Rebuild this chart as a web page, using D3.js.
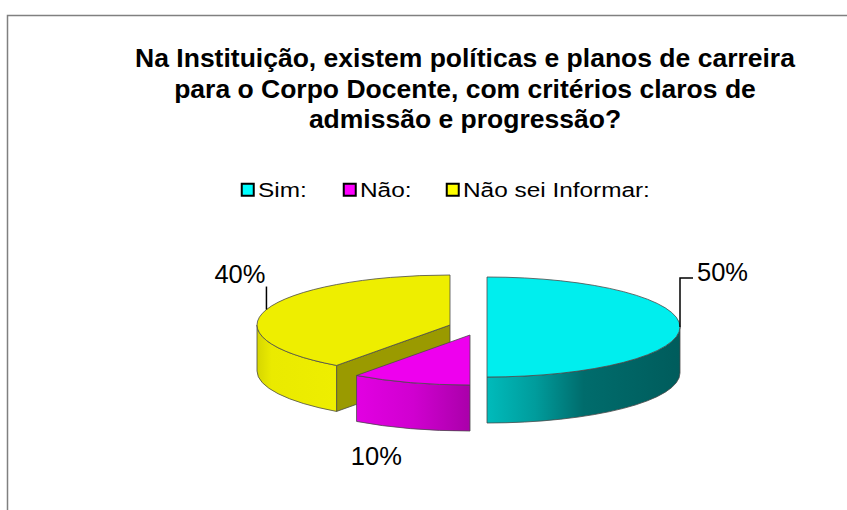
<!DOCTYPE html>
<html>
<head>
<meta charset="utf-8">
<script src="https://cdn.jsdelivr.net/npm/d3@7"></script>
<style>
  html, body { margin: 0; padding: 0; background: #fff; }
  svg { display: block; }
  text { font-family: "Liberation Sans", Arial, Helvetica, sans-serif; fill: #000; }
</style>
</head>
<body>
<svg id="chart" width="847" height="510"></svg>
<script>
// Survey answers
const categories = ["Sim:", "Não:", "Não sei Informar:"];
const values = [50, 10, 40];
const valueLabels = ["50%", "10%", "40%"];
const topColors = ["#00EEEE", "#EE00EE", "#EEEE00"];
const legendColors = ["#00FFFF", "#FF00FF", "#FFFF00"];
const titleLines = [
  "Na Instituição, existem políticas e planos de carreira",
  "para o Corpo Docente, com critérios claros de",
  "admissão e progressão?"
];

// Layout of the tilted pie
const W = 847, H = 510;
const cx0 = 470, cy0 = 327;     // pie centre
const rx = 193, ry = 50;        // ellipse radii of the top face
const depth = 46;               // thickness of the disc
// how far each slice is pulled out of the pie (screen px)
const explode = [[17, 0], [0, 8], [-20, -2]];
// label placement relative to the point where each slice's bisector meets its rim
const labelLayout = [
  { leader: [[0, -49], [13, -49]], text: [17, -46], anchor: "start" },
  { leader: null, text: [-34, 82], anchor: "middle" },
  { leader: [[0, -23]], text: [-1, -27], anchor: "end" }
];
// side-wall shading stops per slice
const wallStops = [
  [[0, "#00BBBB"], [0.25, "#009C9C"], [0.5, "#006C6C"], [1, "#005C5C"]],
  [[0, "#E200E2"], [0.5, "#D000D0"], [1, "#AA00AA"]],
  [[0, "#D6D600"], [0.18, "#EAEA00"], [1, "#EEEE00"]]
];

const svg = d3.select("#chart");
const defs = svg.append("defs");

// chart area frame (only top and left edges fall inside the view)
svg.append("rect")
  .attr("x", 7.5).attr("y", 15.5)
  .attr("width", 1200).attr("height", 1200)
  .attr("fill", "#fff")
  .attr("stroke", "#808080").attr("stroke-width", 1.5);

// Title
svg.append("text")
  .attr("text-anchor", "middle")
  .attr("font-weight", "bold")
  .attr("font-size", 26.5)
  .selectAll("tspan")
  .data(titleLines)
  .join("tspan")
  .attr("x", 465)
  .attr("y", (d, i) => 67 + i * 30.5)
  .text(d => d);

// Legend
const legendX = [241, 343, 446];
const legend = svg.append("g");
const legendItems = legend.selectAll("g")
  .data(categories)
  .join("g")
  .attr("transform", (d, i) => `translate(${legendX[i]},183)`);
legendItems.append("rect")
  .attr("x", 0.75).attr("y", 0.75)
  .attr("width", 12).attr("height", 12)
  .attr("fill", (d, i) => legendColors[i])
  .attr("stroke", "#000").attr("stroke-width", 2);
legendItems.append("text")
  .attr("transform", "translate(17,13.5) scale(1.25,1)")
  .attr("font-size", 19.5)
  .text(d => d);

// Pie angles (clockwise from 12 o'clock, in the order given)
const pie = d3.pie().sort(null).value(d => d);
const arcs = pie(values).map((a, i) => {
  const mid = (a.startAngle + a.endAngle) / 2;
  return Object.assign(a, {
    index: i,
    mid,
    cx: cx0 + explode[i][0],
    cy: cy0 + explode[i][1]
  });
});

// scale: angle -> point on the rim of the tilted ellipse
const px = (a, cx) => cx + rx * Math.sin(a);
const py = (a, cy) => cy - ry * Math.cos(a);

function topPath(d) {
  const large = d.endAngle - d.startAngle > Math.PI ? 1 : 0;
  return `M${d.cx},${d.cy}L${px(d.startAngle, d.cx)},${py(d.startAngle, d.cy)}` +
    `A${rx},${ry} 0 ${large} 1 ${px(d.endAngle, d.cx)},${py(d.endAngle, d.cy)}Z`;
}

function wallPath(d, a0, a1) {
  const large = a1 - a0 > Math.PI ? 1 : 0;
  const x0 = px(a0, d.cx), y0 = py(a0, d.cy);
  const x1 = px(a1, d.cx), y1 = py(a1, d.cy);
  return `M${x0},${y0}A${rx},${ry} 0 ${large} 1 ${x1},${y1}` +
    `L${x1},${y1 + depth}A${rx},${ry} 0 ${large} 0 ${x0},${y0 + depth}Z`;
}

function radialPath(d, a) {
  const x = px(a, d.cx), y = py(a, d.cy);
  return `M${d.cx},${d.cy}L${x},${y}L${x},${y + depth}L${d.cx},${d.cy + depth}Z`;
}

// draw slices from back to front
const order = arcs.slice().sort((a, b) => (-Math.cos(a.mid)) - (-Math.cos(b.mid)));
const pieG = svg.append("g");
const edge = { stroke: "#4a4a4a", width: 0.8 };

order.forEach(d => {
  const g = pieG.append("g");
  const base = d3.rgb(topColors[d.index]);
  const inner = d3.rgb(base.r * 0.645, base.g * 0.645, base.b * 0.645);

  // cut faces turned towards the viewer
  if (Math.sin(d.startAngle) < -1e-6) {
    g.append("path").attr("d", radialPath(d, d.startAngle))
      .attr("fill", inner).attr("stroke", edge.stroke).attr("stroke-width", edge.width)
      .attr("stroke-linejoin", "round");
  }
  if (Math.sin(d.endAngle) > 1e-6) {
    g.append("path").attr("d", radialPath(d, d.endAngle))
      .attr("fill", inner).attr("stroke", edge.stroke).attr("stroke-width", edge.width)
      .attr("stroke-linejoin", "round");
  }

  // outer wall: only the front half of the rim (3 o'clock to 9 o'clock)
  const a0 = Math.max(d.startAngle, Math.PI / 2);
  const a1 = Math.min(d.endAngle, 3 * Math.PI / 2);
  if (a1 > a0) {
    const gid = "wall" + d.index;
    const grad = defs.append("linearGradient")
      .attr("id", gid)
      .attr("gradientUnits", "userSpaceOnUse")
      .attr("x1", Math.min(px(a0, d.cx), px(a1, d.cx))).attr("y1", 0)
      .attr("x2", Math.max(px(a0, d.cx), px(a1, d.cx))).attr("y2", 0);
    grad.selectAll("stop").data(wallStops[d.index]).join("stop")
      .attr("offset", s => s[0]).attr("stop-color", s => s[1]);
    g.append("path").attr("d", wallPath(d, a0, a1))
      .attr("fill", `url(#${gid})`)
      .attr("stroke", edge.stroke).attr("stroke-width", edge.width)
      .attr("stroke-linejoin", "round");
  }

  // top face
  g.append("path").attr("d", topPath(d))
    .attr("fill", base)
    .attr("stroke", edge.stroke).attr("stroke-width", edge.width)
    .attr("stroke-linejoin", "round");
});

// Data labels with leader lines
const labelG = svg.append("g");
arcs.forEach(d => {
  const ax = px(d.mid, d.cx), ay = py(d.mid, d.cy);
  const L = labelLayout[d.index];
  if (L.leader) {
    const pts = [[ax, ay]].concat(L.leader.map(p => [ax + p[0], ay + p[1]]));
    labelG.append("path")
      .attr("d", d3.line()(pts))
      .attr("fill", "none").attr("stroke", "#000").attr("stroke-width", 1.5);
  }
  labelG.append("text")
    .attr("x", ax + L.text[0]).attr("y", ay + L.text[1])
    .attr("text-anchor", L.anchor)
    .attr("font-size", 25.5)
    .text(valueLabels[d.index]);
});
</script>
</body>
</html>
